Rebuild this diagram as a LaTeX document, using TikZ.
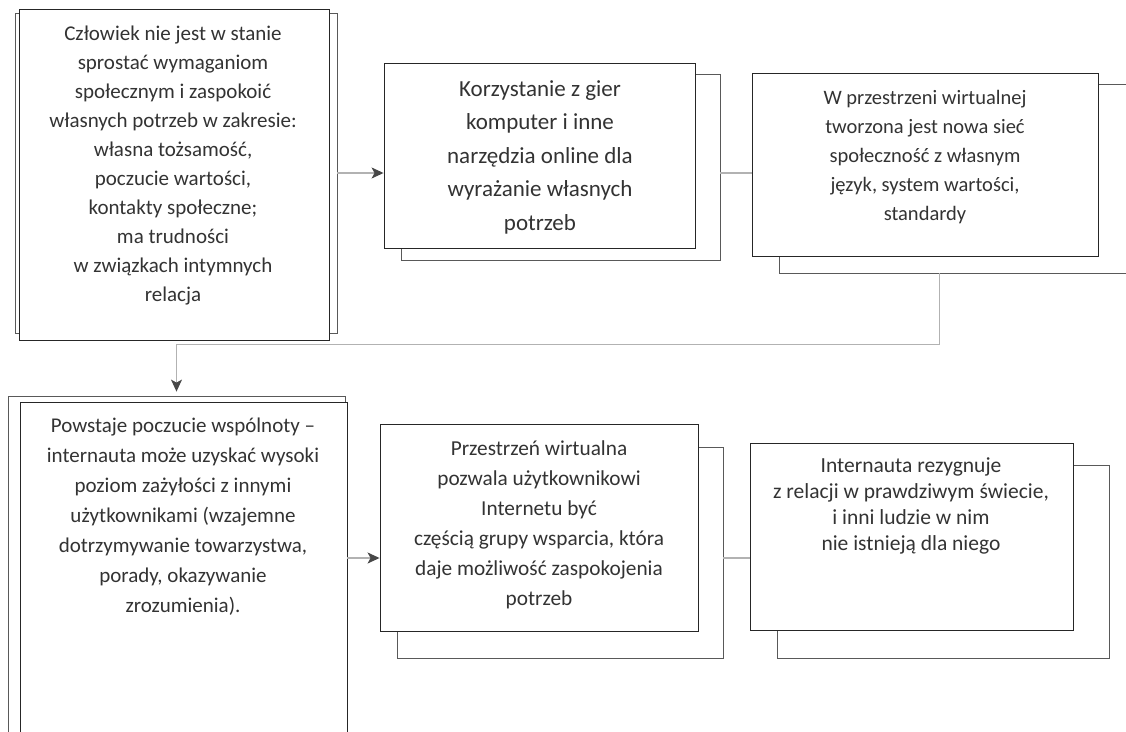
\documentclass[tikz,border=0pt]{standalone}
\usepackage{fontspec}
\setmainfont{Carlito}
\usetikzlibrary{arrows.meta,calc}
\newcommand\bx[6]{\node[#6, minimum width={#4-#2}, minimum height={#5-#3}] (#1) at ({(#2+#4)/2},{(#3+#5)/2}) {};}
\begin{document}
\begin{tikzpicture}[x=1pt,y=-1pt,
  front/.style={draw=black!85, line width=0.9pt, fill=white, inner sep=0pt, rectangle},
  back/.style={draw=black!65, line width=0.8pt, fill=white, inner sep=0pt, rectangle},
  txt/.style={align=center, inner sep=0pt, text=black!80},
  conn/.style={draw=black!30, line width=1.3pt},
  arr/.style={conn, -{Stealth[length=12pt,width=11pt,inset=3pt,color=black!72]}}]
\clip (0,0) rectangle (1126,731);
\fill[white] (0,0) rectangle (1126,731);
\coordinate (row1) at (0,173);
\coordinate (row2) at (0,558);
% boxes
\bx{b1back}{15}{13}{337}{333}{back}
\bx{b1}{19}{9}{329}{340}{front}
\bx{b2back}{401}{74}{720}{260}{back}
\bx{b2}{384}{63}{695}{248}{front}
\bx{b3back}{779}{84}{1150}{273}{back}
\bx{b3}{752}{73}{1098}{256}{front}
\bx{b4back}{8}{396}{345}{760}{back}
\bx{b4}{20}{402}{347}{760}{front}
\bx{b5back}{397}{447}{723}{658}{back}
\bx{b5}{380}{424}{698}{631}{front}
\bx{b6back}{777}{465}{1109}{658}{back}
\bx{b6}{750}{443}{1073}{630}{front}
% texts
\node[txt, font=\fontsize{21}{29}\selectfont] (t1) at (173,166) {Człowiek nie jest w stanie\\sprostać wymaganiom\\społecznym i zaspokoić\\własnych potrzeb w zakresie:\\własna tożsamość,\\poczucie wartości,\\kontakty społeczne;\\ma trudności\\w związkach intymnych\\relacja};
\node[txt, font=\fontsize{23}{33.5}\selectfont] (t2) at (540,157) {Korzystanie z gier\\komputer i inne\\narzędzia online dla\\wyrażanie własnych\\potrzeb};
\node[txt, font=\fontsize{20.5}{29}\selectfont] (t3) at (925,157) {W przestrzeni wirtualnej\\tworzona jest nowa sieć\\społeczność z własnym\\język, system wartości,\\standardy};
\node[txt, font=\fontsize{21}{30}\selectfont] (t4) at (183,517) {Powstaje poczucie wspólnoty --\\internauta może uzyskać wysoki\\poziom zażyłości z innymi\\użytkownikami (wzajemne\\dotrzymywanie towarzystwa,\\porady, okazywanie\\zrozumienia).};
\node[txt, font=\fontsize{21.3}{30}\selectfont] (t5) at (539,525) {Przestrzeń wirtualna\\pozwala użytkownikowi\\Internetu być\\częścią grupy wsparcia, która\\daje możliwość zaspokojenia\\potrzeb};
\node[txt, font=\fontsize{21.5}{26}\selectfont] (t6) at (911,506) {Internauta rezygnuje\\z relacji w prawdziwym świecie,\\i inni ludzie w nim\\nie istnieją dla niego};
% connectors
\draw[arr] (b1back.east |- row1) -- (b2.west |- row1);
\draw[conn] (b2back.east |- row1) -- (b3.west |- row1);
\draw[arr, shorten >=4pt] ([xshift=161pt]b3back.south west) -- ++(0,71) -| (b4back.north);
\draw[arr] (b4.east |- row2) -- (b5.west |- row2);
\draw[conn] (b5back.east |- row2) -- (b6.west |- row2);
\end{tikzpicture}
\end{document}
